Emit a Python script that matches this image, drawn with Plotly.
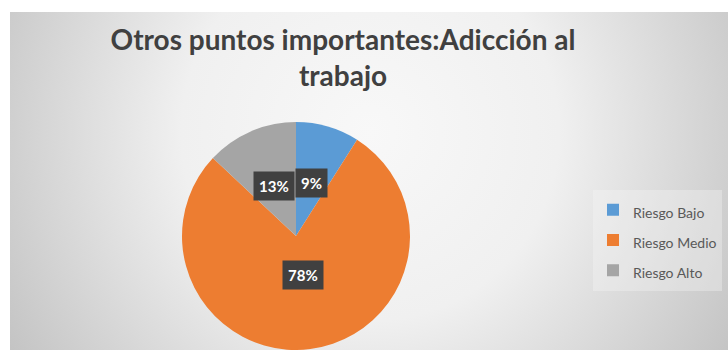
import base64, math
import plotly.graph_objects as go

# ---- data ----
categories = ["Riesgo Bajo", "Riesgo Medio", "Riesgo Alto"]
values = [9, 78, 13]
colors = ["#5B9BD5", "#ED7D31", "#A5A5A5"]
title_text = "Otros puntos importantes:Adicción al<br>trabajo"

W, H = 728, 350

# ---- background gradient (chart area) ----
svg = f'''<svg xmlns="http://www.w3.org/2000/svg" width="718" height="338" viewBox="0 0 718 338">
<defs><radialGradient id="g" gradientUnits="userSpaceOnUse" cx="360" cy="120" r="420">
<stop offset="0" stop-color="#f8f8f8"/><stop offset="0.45" stop-color="#f0f0f0"/><stop offset="1" stop-color="#c4c4c4"/>
</radialGradient></defs><rect width="718" height="338" fill="url(#g)"/></svg>'''
src = "data:image/svg+xml;base64," + base64.b64encode(svg.encode()).decode()

# legend labels: rendered at 14px, spaced like a larger font
legend_labels = [f'<span style="font-size:14px">{c}</span>' for c in categories]

# pie geometry (pixels)
cx, cy, r = 296, 236, 114
dom_x = [(cx - r) / W, (cx + r) / W]
dom_y = [1 - (cy + r) / H, 1 - (cy - r) / H]

fig = go.Figure(go.Pie(
    labels=legend_labels, values=values, sort=False, direction="clockwise", rotation=0,
    marker=dict(colors=colors, line=dict(width=0)),
    textinfo="none", hoverinfo="percent",
    domain=dict(x=dom_x, y=dom_y),
))

# data labels at slice mid-angles (computed from values)
total = sum(values)
cum = 0
anns = []
for v in values:
    mid = (cum + v / 2) / total * 2 * math.pi
    cum += v
    k = 0.48
    px = cx + k * r * math.sin(mid)
    py = cy - k * r * math.cos(mid)
    anns.append(dict(
        x=px / W, y=1 - py / H, xref="paper", yref="paper", showarrow=False,
        text=f"<b>{round(v / total * 100)}%</b>", bgcolor="#404040", borderpad=5,
        font=dict(family="Lato", size=15, color="white"),
    ))

fig.update_layout(
    width=W, height=H, margin=dict(l=0, r=0, t=0, b=0, autoexpand=False),
    paper_bgcolor="white", plot_bgcolor="white",
    images=[dict(source=src, xref="paper", yref="paper", x=10 / W, y=1 - 12 / H,
                 sizex=718 / W, sizey=338 / H, sizing="stretch", layer="below",
                 xanchor="left", yanchor="top")],
    title=dict(text=title_text, x=343 / W, xanchor="center", y=1 - 50 / H, yanchor="top",
               font=dict(family="Lato", size=28, color="#404040", weight=700)),
    legend=dict(x=593 / W, y=1 - 240 / H, xanchor="left", yanchor="middle",
                bgcolor="rgba(245,245,245,0.35)",
                font=dict(family="Lato", size=21, color="#595959"),
                itemwidth=30),
    annotations=anns,
    showlegend=True,
)

fig.write_html("out.html")
